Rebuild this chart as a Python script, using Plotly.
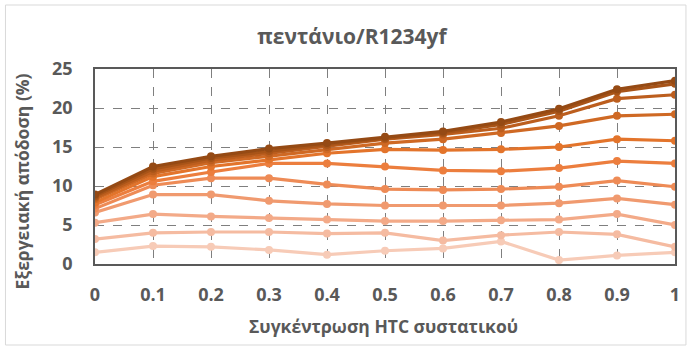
import plotly.graph_objects as go

# HTC component concentration (x axis)
concentration = [0, 0.1, 0.2, 0.3, 0.4, 0.5, 0.6, 0.7, 0.8, 0.9, 1]

# Exergy efficiency (%) curves, from the lightest to the darkest
eff_1 = [1.5, 2.3, 2.2, 1.8, 1.2, 1.7, 2.0, 2.9, 0.5, 1.1, 1.5]
eff_2 = [3.2, 4.0, 4.1, 4.1, 3.9, 4.0, 3.0, 3.7, 4.1, 3.8, 2.2]
eff_3 = [5.3, 6.4, 6.1, 5.9, 5.7, 5.5, 5.5, 5.6, 5.7, 6.4, 5.0]
eff_4 = [6.6, 8.9, 8.9, 8.1, 7.7, 7.5, 7.5, 7.5, 7.8, 8.4, 7.6]
eff_5 = [7.1, 10.1, 11.0, 11.0, 10.2, 9.6, 9.5, 9.6, 9.9, 10.7, 9.9]
eff_6 = [7.6, 10.6, 11.8, 12.9, 12.9, 12.5, 12.0, 11.9, 12.3, 13.2, 12.9]
eff_7 = [7.9, 11.2, 12.5, 13.4, 14.2, 14.7, 14.6, 14.7, 15.0, 16.0, 15.8]
eff_8 = [8.3, 11.6, 13.0, 13.8, 14.7, 15.5, 16.0, 16.8, 17.7, 19.0, 19.2]
eff_9 = [8.5, 11.9, 13.3, 14.2, 15.0, 16.0, 16.6, 17.4, 19.0, 21.2, 21.7]
eff_10 = [8.7, 12.2, 13.6, 14.5, 15.3, 16.1, 16.8, 17.9, 19.6, 22.1, 23.1]
eff_11 = [8.9, 12.5, 13.8, 14.8, 15.5, 16.3, 17.0, 18.2, 19.9, 22.4, 23.5]

series = [eff_1, eff_2, eff_3, eff_4, eff_5, eff_6, eff_7, eff_8, eff_9, eff_10, eff_11]
colors = ["#F7CBB7", "#F5BBA1", "#F3AA88", "#F09A6F", "#EE8B56", "#EC7E3E",
          "#E3742B", "#CF6924", "#BC5E1E", "#A85418", "#954A14"]

x_ticks = [0, 0.1, 0.2, 0.3, 0.4, 0.5, 0.6, 0.7, 0.8, 0.9, 1]
x_tick_text = ["0", "0.1", "0.2", "0.3", "0.4", "0.5", "0.6", "0.7", "0.8", "0.9", "1"]
y_ticks = [0, 5, 10, 15, 20, 25]

title_text = "πεντάνιο/R1234yf"
x_title = "Συγκέντρωση HTC συστατικού"
y_title = "Εξεργειακή απόδοση (%)"

W, H = 692, 350
L, R, T, B = 95, 14, 69, 86
pw, ph = W - L - R, H - T - B

fig = go.Figure()
for vals, col in zip(series, colors):
    fig.add_trace(go.Scatter(
        x=concentration, y=vals, mode="lines+markers",
        line=dict(color=col, width=3.2),
        marker=dict(color=col, size=8),
        showlegend=False, hoverinfo="skip",
    ))

font_family = "Open Sans, Noto Sans, DejaVu Sans, sans-serif"
grey = "#595959"

fig.update_layout(
    width=W, height=H,
    margin=dict(l=L, r=R, t=T, b=B),
    paper_bgcolor="white", plot_bgcolor="white",
    font=dict(family=font_family, color=grey),
    title=dict(
        text="<b>" + title_text + "</b>",
        x=(352 - L) / pw * pw / W + L / W, xanchor="center",
        y=1 - 37 / H, yanchor="middle",
        font=dict(size=21, color=grey),
    ),
    xaxis=dict(
        range=[0, 1], tickvals=x_ticks, ticktext=x_tick_text,
        tickfont=dict(size=18, color=grey, weight="bold"),
        ticklabelstandoff=14,
        showgrid=True, gridcolor="#7f7f7f", griddash="dash", gridwidth=1,
        showline=True, linecolor="#595959", linewidth=1.5, mirror=True,
        zeroline=False,
    ),
    yaxis=dict(
        range=[0, 25], tickvals=y_ticks,
        tickfont=dict(size=18, color=grey, weight="bold"),
        ticklabelstandoff=17,
        showgrid=True, gridcolor="#7f7f7f", griddash="dash", gridwidth=1,
        showline=True, linecolor="#595959", linewidth=1.5, mirror=True,
        zeroline=False,
    ),
)

# axis titles
fig.add_annotation(
    text="<b>" + x_title + "</b>", xref="paper", yref="paper",
    x=(385 - L) / pw, y=1 - (326 - T) / ph, xanchor="center", yanchor="middle",
    showarrow=False, font=dict(size=17.5, color=grey),
)
fig.add_annotation(
    text="<b>" + y_title + "</b>", xref="paper", yref="paper",
    x=(22 - L) / pw, y=1 - (181 - T) / ph, xanchor="center", yanchor="middle",
    textangle=-90, showarrow=False, font=dict(size=17.5, color=grey),
)

# light outline around the whole chart area
fig.add_shape(
    type="rect", xref="paper", yref="paper",
    x0=(5 - L) / pw, x1=(689 - L) / pw,
    y0=1 - (345 - T) / ph, y1=1 - (5 - T) / ph,
    line=dict(color="#d9d9d9", width=1), fillcolor="rgba(0,0,0,0)", layer="below",
)

fig.write_html("out.html")
